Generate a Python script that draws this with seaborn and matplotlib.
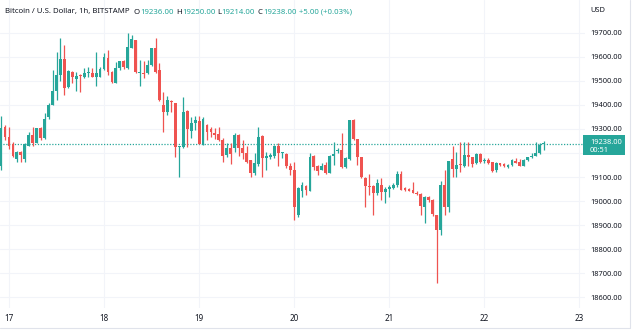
import numpy as np
import pandas as pd
import matplotlib
matplotlib.use("Agg")
import matplotlib.pyplot as plt
from matplotlib.patches import Rectangle
import seaborn as sns

# Hourly BTC/USD candles (Bitstamp); hour 0 = 17th 00:00
hours = list(range(-2, 136))
open_ = [19144, 19307, 19265, 19238, 19175, 19206, 19174, 19231, 19275, 19243,
         19303, 19261, 19349, 19400, 19459, 19524, 19590, 19476, 19538, 19508,
         19524, 19515, 19533, 19534, 19517, 19517, 19548, 19596, 19538, 19493,
         19552, 19584, 19552, 19638, 19670, 19531, 19534, 19534, 19566, 19635,
         19545, 19400, 19372, 19418, 19409, 19224, 19224, 19376, 19293, 19324,
         19333, 19238, 19317, 19299, 19282, 19278, 19252, 19192, 19220, 19220,
         19275, 19220, 19202, 19171, 19116, 19155, 19271, 19178, 19182, 19188,
         19229, 19199, 19196, 19148, 19129, 18942, 19043, 19063, 19044, 19188,
         19146, 19130, 19150, 19118, 19188, 19210, 19213, 19141, 19174, 19337,
         19257, 19182, 19095, 19063, 19063, 19033, 19067, 19039, 19049, 19053,
         19067, 19113, 19053, 19049, 19046, 19035, 19030, 18974, 19016, 19005,
         18943, 18880, 19067, 18977, 19174, 19132, 19155, 19146, 19192, 19182,
         19157, 19195, 19166, 19171, 19164, 19130, 19157, 19154, 19140, 19150,
         19168, 19164, 19147, 19171, 19182, 19189, 19199, 19236]
high = [19354, 19315, 19310, 19245, 19210, 19210, 19240, 19289, 19310, 19305,
        19310, 19365, 19407, 19545, 19621, 19677, 19649, 19545, 19540, 19535,
        19530, 19553, 19556, 19552, 19621, 19559, 19614, 19628, 19540, 19580,
        19584, 19587, 19700, 19691, 19670, 19587, 19584, 19587, 19635, 19677,
        19573, 19455, 19437, 19421, 19409, 19230, 19432, 19379, 19351, 19354,
        19355, 19351, 19321, 19310, 19303, 19307, 19261, 19241, 19243, 19285,
        19279, 19254, 19230, 19171, 19199, 19307, 19275, 19206, 19200, 19233,
        19240, 19206, 19199, 19158, 19164, 19058, 19081, 19067, 19202, 19192,
        19150, 19160, 19164, 19192, 19247, 19220, 19282, 19185, 19337, 19340,
        19257, 19182, 19099, 19113, 19067, 19091, 19095, 19057, 19067, 19075,
        19127, 19127, 19057, 19053, 19081, 19040, 19035, 19021, 19021, 19010,
        18943, 19085, 19130, 19168, 19229, 19206, 19247, 19247, 19247, 19185,
        19199, 19199, 19178, 19178, 19164, 19164, 19160, 19157, 19153, 19175,
        19178, 19175, 19175, 19185, 19199, 19247, 19243, 19250]
low = [19130, 19255, 19216, 19185, 19164, 19164, 19164, 19229, 19229, 19240,
       19255, 19257, 19342, 19400, 19421, 19500, 19441, 19470, 19490, 19459,
       19455, 19510, 19515, 19517, 19480, 19515, 19543, 19525, 19490, 19490,
       19545, 19548, 19548, 19635, 19534, 19479, 19510, 19528, 19560, 19531,
       19415, 19289, 19358, 19372, 19185, 19102, 19220, 19227, 19261, 19296,
       19238, 19234, 19254, 19265, 19257, 19248, 19164, 19185, 19155, 19206,
       19188, 19174, 19158, 19102, 19109, 19144, 19102, 19130, 19175, 19178,
       19144, 19178, 19137, 19109, 18922, 18933, 19019, 19026, 19044, 19130,
       19109, 19130, 19113, 19118, 19150, 19199, 19137, 19137, 19171, 19254,
       19150, 19095, 18974, 19026, 18942, 19026, 19005, 18991, 19019, 19050,
       19060, 19046, 19044, 19040, 19032, 19025, 18942, 18911, 18995, 18940,
       18659, 18859, 18943, 18956, 19099, 19099, 19122, 19140, 19146, 19143,
       19154, 19160, 19157, 19154, 19122, 19122, 19146, 19143, 19136, 19148,
       19157, 19147, 19146, 19168, 19178, 19188, 19196, 19214]
close = [19303, 19265, 19231, 19189, 19206, 19192, 19238, 19275, 19243, 19303,
         19261, 19340, 19400, 19459, 19524, 19590, 19469, 19542, 19515, 19522,
         19518, 19531, 19534, 19517, 19531, 19548, 19601, 19538, 19494, 19552,
         19584, 19556, 19642, 19674, 19538, 19534, 19530, 19566, 19635, 19536,
         19421, 19372, 19421, 19412, 19224, 19226, 19369, 19299, 19324, 19338,
         19238, 19340, 19289, 19286, 19275, 19254, 19189, 19220, 19196, 19275,
         19220, 19199, 19164, 19116, 19157, 19268, 19178, 19188, 19192, 19229,
         19199, 19200, 19144, 19130, 18974, 19053, 19067, 19046, 19182, 19141,
         19127, 19146, 19116, 19188, 19196, 19212, 19141, 19178, 19337, 19257,
         19185, 19099, 19063, 19060, 19033, 19074, 19039, 19049, 19057, 19067,
         19113, 19046, 19046, 19044, 19035, 19030, 18980, 19016, 19005, 18947,
         18880, 19067, 18977, 19168, 19132, 19150, 19150, 19192, 19182, 19154,
         19195, 19164, 19169, 19157, 19127, 19160, 19150, 19147, 19150, 19171,
         19160, 19147, 19171, 19182, 19186, 19199, 19233, 19238]

day_ticks = [0, 24, 48, 72, 96, 120, 144]
day_labels = ["17", "18", "19", "20", "21", "22", "23"]
price_ticks = [18600, 18700, 18800, 18900, 19000, 19100, 19300,
               19400, 19500, 19600, 19700]
last_price = 19238.00
last_change = 5.00
countdown = "00:51"

UP = "#26a69a"
DOWN = "#ef5350"
TEXT = "#131722"
GRID = "#f2f4f9"

df = pd.DataFrame({"hour": hours, "open": open_, "high": high,
                   "low": low, "close": close})
df["up"] = df["close"] >= df["open"]
df["color"] = np.where(df["up"], UP, DOWN)
df["body_lo"] = df[["open", "close"]].min(axis=1)
df["body_h"] = (df["close"] - df["open"]).abs().clip(lower=4.5)

sns.set_theme(style="white")
plt.rcParams["font.family"] = ["Noto Sans", "DejaVu Sans"]

W, H = 640, 332
fig = plt.figure(figsize=(W / 100, H / 100), dpi=100)
fig.patch.set_facecolor("white")
ax = fig.add_axes([0, 24 / H, 585 / W, 308 / H])
ax.set_facecolor("white")

ax.set_xlim(-2.27, 145.45)
ax.set_ylim(18555.8, 19835.9)

# grid
for p in price_ticks + [19200]:
    ax.axhline(p, color=GRID, lw=0.8, zorder=0)
for d in day_ticks:
    ax.axvline(d, color=GRID, lw=0.8, zorder=0)

# wicks and bodies
ax.vlines(df["hour"], df["low"], df["high"], colors=df["color"], lw=0.9, zorder=2)
ax.bar(df["hour"], df["body_h"], bottom=df["body_lo"], width=0.72,
       color=df["color"], linewidth=0, zorder=3)

# last price line
ax.axhline(last_price, color=UP, lw=0.9, ls=(0, (1, 1.3)), zorder=1)

for s in ax.spines.values():
    s.set_visible(False)

ax.set_xticks(day_ticks)
ax.set_xticklabels(day_labels)
ax.tick_params(axis="x", length=0, pad=4, labelsize=5.8, labelcolor=TEXT)
ax.yaxis.tick_right()
ax.set_yticks(price_ticks)
ax.set_yticklabels([f"{p:.2f}" for p in price_ticks])
ax.tick_params(axis="y", length=0, pad=4, labelsize=5.4, labelcolor=TEXT)
ax.grid(False)

# current price tag on the scale
ytag = ax.transData.transform((0, last_price))[1] / H
fig.add_artist(Rectangle((583 / W, ytag - 11 / H), 42 / W, 20 / H,
                         transform=fig.transFigure, fc=UP, ec="none"))
fig.text(590 / W, ytag + 1 / H, f"{last_price:.2f}", fontsize=5.4,
         color="white", va="center")
fig.text(590 / W, ytag - 7 / H, countdown, fontsize=5.4,
         color="white", va="center")

fig.text(590 / W, 1 - 11 / H, "USD", fontsize=5.4, color=TEXT, va="center")

# header legend: each piece placed right after the previous one
row = df.iloc[-1]
y0 = 1 - 12 / H
fs = 5.6
renderer = fig.canvas.get_renderer()
pct = last_change / (last_price - last_change) * 100
pieces = [("Bitcoin / U.S. Dollar, 1h, BITSTAMP", TEXT, 5),
          ("O", TEXT, 134), (f"{row['open']:.2f}", UP, None),
          ("H", TEXT, 176), (f"{row['high']:.2f}", UP, None),
          ("L", TEXT, 217), (f"{row['low']:.2f}", UP, None),
          ("C", TEXT, 258), (f"{row['close']:.2f}", UP, None),
          (f"+{last_change:.2f} (+{pct:.2f}%)", UP, 299)]
cursor = 0
for s, col, xp in pieces:
    if xp is not None:
        cursor = xp
    t = fig.text(cursor / W, y0, s, fontsize=fs, color=col, va="center")
    cursor = t.get_window_extent(renderer).x1 + 0.5

# outer frame lines
fig.add_artist(plt.Line2D([630 / W, 630 / W], [1 - 328 / H, 1], color="#e0e3eb", lw=0.8))
fig.add_artist(plt.Line2D([0, 630 / W], [1 - 328 / H, 1 - 328 / H], color="#e0e3eb", lw=0.8))

fig.savefig("out.png", dpi=100, facecolor="white")
